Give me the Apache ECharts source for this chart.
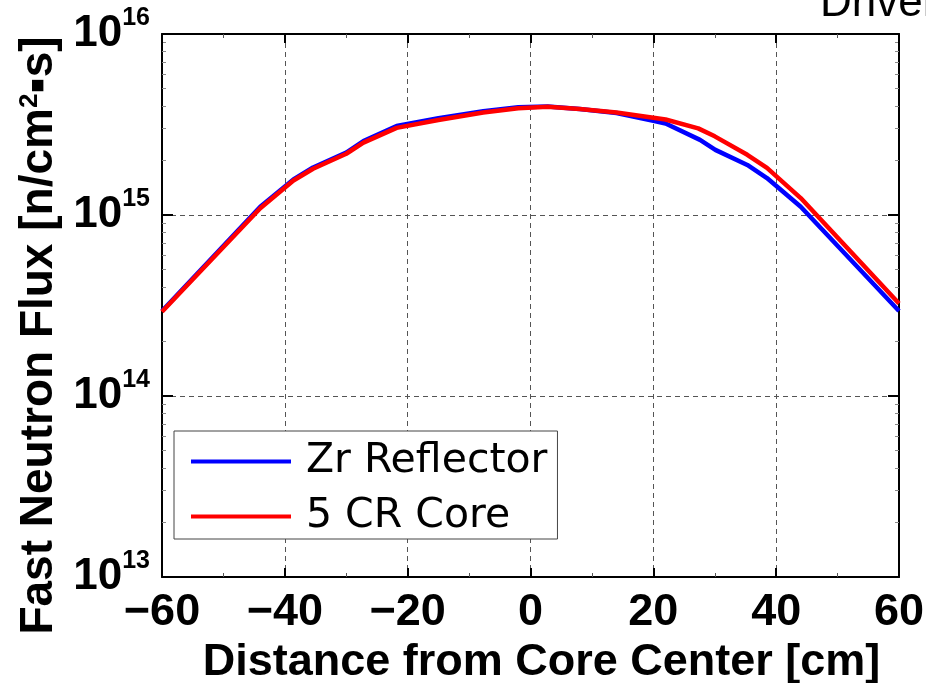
<!DOCTYPE html>
<html>
<head>
<meta charset="utf-8">
<script src="https://cdn.jsdelivr.net/npm/echarts@6/dist/echarts.min.js"></script>
<style>
  html, body { margin: 0; padding: 0; background: #fff; }
  #chart { width: 926px; height: 683px; }
</style>
</head>
<body>
<div id="chart"></div>
<script>
// distance from core center [cm] and fast neutron flux [n/cm2.s]
const distZr = [-60, -44, -38.6, -35.4, -30, -27.2, -21.8, -15, -7.7, -2, 2.8, 8, 14, 20, 22, 27.6, 30.1, 35.3, 38.5, 44, 60];
const fluxZr = [2.95e14, 1.11e15, 1.57e15, 1.83e15, 2.21e15, 2.56e15, 3.10e15, 3.43e15, 3.74e15, 3.94e15, 3.98e15, 3.85e15, 3.66e15, 3.31e15, 3.20e15, 2.60e15, 2.29e15, 1.89e15, 1.60e15, 1.11e15, 2.95e14];
const distCr = [-60, -44, -38.6, -35.4, -30, -27.2, -21.8, -15, -7.7, -2, 2.8, 8, 14, 20, 22, 27.3, 30, 35.3, 38.5, 44, 60];
const fluxCr = [2.92e14, 1.09e15, 1.55e15, 1.80e15, 2.18e15, 2.51e15, 3.03e15, 3.35e15, 3.68e15, 3.89e15, 3.96e15, 3.85e15, 3.68e15, 3.45e15, 3.37e15, 3.01e15, 2.72e15, 2.15e15, 1.82e15, 1.24e15, 3.24e14];

const seriesNames = ['Zr Reflector', '5 CR Core'];
const seriesColors = ['#0000ff', '#ff0000'];
const yDecades = [13, 14, 15, 16];

// log minor ticks 2..9 in each decade
const minorY = [];
yDecades.slice(0, -1).forEach((e) => {
  for (let k = 2; k <= 9; k++) minorY.push(k * Math.pow(10, e));
});

const BOLD = 'Liberation Sans';
const PLAIN = 'DejaVu Sans';

const myChart = echarts.init(document.getElementById('chart'));

const xBase = {
  type: 'value',
  min: -60,
  max: 60,
  interval: 20,
  axisLine: { show: true, onZero: false, lineStyle: { color: '#000', width: 2 } },
  axisTick: { show: true, inside: true, length: 9, lineStyle: { color: '#000', width: 2 } },
  minorTick: { show: true, splitNumber: 2, length: 4, lineStyle: { color: '#555', width: 1 } },
};

const yBase = {
  type: 'log',
  logBase: 10,
  min: 1e13,
  max: 1e16,
  axisLine: { show: true, onZero: false, lineStyle: { color: '#000', width: 2 } },
  axisTick: { show: true, inside: true, length: 11, lineStyle: { color: '#000', width: 2 } },
};

const minorYAxis = (pos) => ({
  ...yBase,
  position: pos,
  axisLine: { show: false, onZero: false },
  axisTick: { show: true, inside: true, length: 4, customValues: minorY, lineStyle: { color: '#888', width: 1 } },
  axisLabel: { show: false },
  splitLine: { show: false },
});

const option = {
  animation: false,
  backgroundColor: '#fff',
  grid: { left: 162, right: 27, top: 34, bottom: 106, outerBoundsMode: 'none' },
  graphic: [
    {
      type: 'text',
      style: {
        text: 'Driver',
        x: 820,
        y: 26,
        verticalAlign: 'bottom',
        font: '44px "Liberation Sans"',
        fill: '#000',
      },
    },
  ],
  legend: {
    orient: 'vertical',
    left: 174,
    top: 431,
    data: seriesNames,
    icon: 'rect',
    itemWidth: 100,
    itemHeight: 4,
    itemGap: 14,
    padding: [10, 10, 2, 17],
    backgroundColor: '#fff',
    borderColor: '#444',
    borderWidth: 1,
    textStyle: {
      fontFamily: PLAIN,
      fontSize: 41,
      lineHeight: 41,
      color: '#000',
      padding: [0, 0, 0, 10],
    },
  },
  xAxis: [
    {
      ...xBase,
      position: 'bottom',
      name: 'Distance from Core Center [cm]',
      nameLocation: 'middle',
      nameGap: 62,
      nameTextStyle: {
        fontFamily: BOLD,
        fontWeight: 'bold',
        fontSize: 45,
        lineHeight: 45,
        color: '#000',
        padding: [0, 0, 0, 22],
      },
      axisLabel: {
        margin: 13,
        fontFamily: BOLD,
        fontWeight: 'bold',
        fontSize: 45,
        lineHeight: 45,
        color: '#000',
        formatter: (v) => (v < 0 ? '\u2212' + Math.abs(v) : String(v)),
      },
      splitLine: { show: true, lineStyle: { color: '#555', type: [5, 4], width: 1 } },
    },
    {
      ...xBase,
      position: 'top',
      axisLabel: { show: false },
      splitLine: { show: false },
    },
  ],
  yAxis: [
    {
      ...yBase,
      position: 'left',
      name: '{t|Fast Neutron Flux [n/cm}{s|2}{t|\u25AAs]}',
      nameLocation: 'middle',
      nameGap: 86,
      nameTextStyle: {
        color: '#000',
        padding: [0, 60, 0, 0],
        rich: {
          t: { fontFamily: BOLD, fontWeight: 'bold', fontSize: 46, lineHeight: 46, color: '#000' },
          s: { fontFamily: BOLD, fontWeight: 'bold', fontSize: 26, lineHeight: 26, verticalAlign: 'top', color: '#000' },
        },
      },
      axisLabel: {
        margin: 12,
        formatter: (v) => '{b|10}{s|' + Math.round(Math.log10(v)) + '}',
        rich: {
          b: { fontFamily: BOLD, fontWeight: 'bold', fontSize: 44, lineHeight: 56, color: '#000' },
          s: { fontFamily: BOLD, fontWeight: 'bold', fontSize: 25, lineHeight: 25, verticalAlign: 'top', color: '#000' },
        },
      },
      splitLine: { show: true, lineStyle: { color: '#555', type: [5, 4], width: 1 } },
    },
    {
      ...yBase,
      position: 'right',
      axisLabel: { show: false },
      splitLine: { show: false },
    },
    minorYAxis('left'),
    minorYAxis('right'),
  ],
  series: [
    {
      name: seriesNames[0],
      type: 'line',
      symbol: 'none',
      color: seriesColors[0],
      lineStyle: { color: seriesColors[0], width: 4.5 },
      data: distZr.map((x, i) => [x, fluxZr[i]]),
      z: 3,
    },
    {
      name: seriesNames[1],
      type: 'line',
      symbol: 'none',
      color: seriesColors[1],
      lineStyle: { color: seriesColors[1], width: 4.5 },
      data: distCr.map((x, i) => [x, fluxCr[i]]),
      z: 4,
    },
  ],
};

myChart.setOption(option);
window.addEventListener('resize', () => {
  myChart.resize();
});
</script>
</body>
</html>
